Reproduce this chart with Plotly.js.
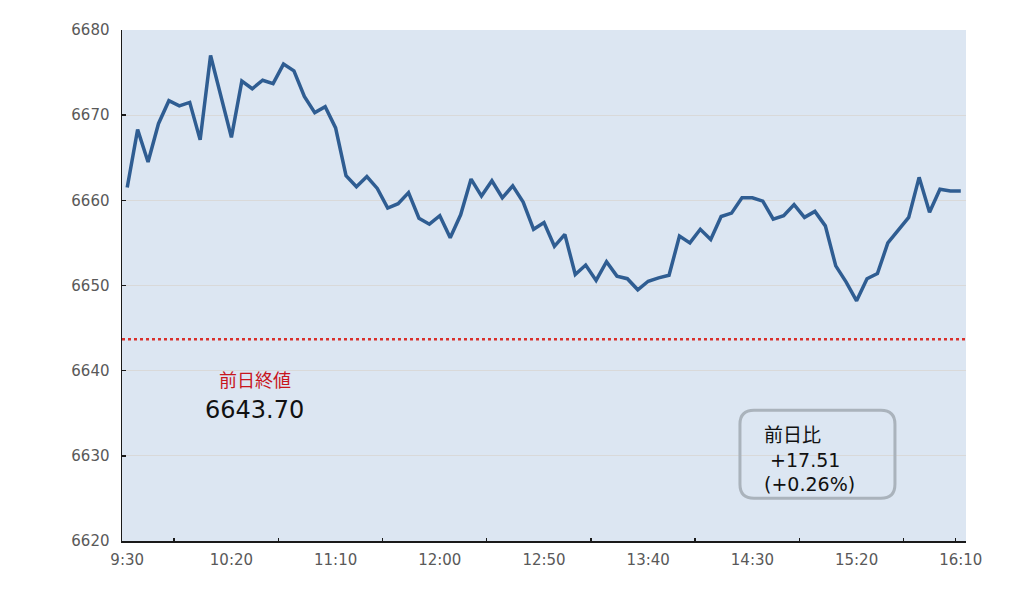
<!DOCTYPE html>
<html>
<head>
<meta charset="utf-8">
<script src="https://cdn.plot.ly/plotly-3.0.1.min.js"></script>
<style>html,body{margin:0;padding:0;background:#fff;}#chart{width:1030px;height:596px;}</style>
</head>
<body>
<div id="chart"></div>
<script>
// 5-minute prices, 9:30 -> 16:10 (81 points)
const prices = [
  6661.5, 6668.3, 6664.5, 6669.0, 6671.7, 6671.1, 6671.5, 6667.1, 6677.0, 6672.3,
  6667.4, 6674.0, 6673.1, 6674.1, 6673.7, 6676.0, 6675.2, 6672.2, 6670.3, 6671.0,
  6668.5, 6662.9, 6661.6, 6662.8, 6661.4, 6659.1, 6659.6, 6660.9, 6657.9, 6657.2,
  6658.2, 6655.6, 6658.3, 6662.5, 6660.5, 6662.3, 6660.3, 6661.7, 6659.8, 6656.6,
  6657.4, 6654.6, 6656.0, 6651.3, 6652.4, 6650.6, 6652.8, 6651.1, 6650.8, 6649.5,
  6650.5, 6650.9, 6651.2, 6655.8, 6655.0, 6656.6, 6655.4, 6658.1, 6658.5, 6660.3,
  6660.3, 6659.9, 6657.8, 6658.2, 6659.5, 6658.0, 6658.7, 6657.0, 6652.3, 6650.4,
  6648.2, 6650.8, 6651.4, 6655.0, 6656.5, 6658.0, 6662.7, 6658.6, 6661.3, 6661.1,
  6661.1
];
const tickLabels = ["9:30", "10:20", "11:10", "12:00", "12:50", "13:40", "14:30", "15:20", "16:10"];
const tickIndex = [0, 10, 20, 30, 40, 50, 60, 70, 80];
const tickMarkIndex = [4.5, 14.5, 24.5, 34.5, 44.5, 54.5, 64.5, 74.5, 79.5];
const prevClose = [6643.70];
const prevCloseLabel = ["前日終値", "6643.70"];
const changeLabel = ["前日比", "\u00a0+17.51", "(+0.26%)"];

const xs = prices.map((_, i) => i);
const FONT = "DejaVu Sans, Noto Sans CJK JP, sans-serif";

const trace = {
  x: xs, y: prices, type: 'scatter', mode: 'lines',
  line: {color: '#2f5d92', width: 3.5},
  hoverinfo: 'skip'
};
// empty trace so the tick-mark overlay axis is drawn
const tickTrace = {x: [], y: [], type: 'scatter', mode: 'lines', xaxis: 'x2', yaxis: 'y', hoverinfo: 'skip'};

const W = 155, H = 88, R = 14;
const boxPath = `M ${-W/2+R} ${-H/2} L ${W/2-R} ${-H/2} Q ${W/2} ${-H/2} ${W/2} ${-H/2+R} L ${W/2} ${H/2-R} Q ${W/2} ${H/2} ${W/2-R} ${H/2} L ${-W/2+R} ${H/2} Q ${-W/2} ${H/2} ${-W/2} ${H/2-R} L ${-W/2} ${-H/2+R} Q ${-W/2} ${-H/2} ${-W/2+R} ${-H/2} Z`;

const layout = {
  width: 1030, height: 596,
  margin: {l: 122, r: 64, t: 30, b: 55},
  paper_bgcolor: '#ffffff',
  plot_bgcolor: '#dce6f2',
  showlegend: false,
  font: {family: FONT, color: '#595959', size: 15},
  xaxis: {
    range: [-0.5, 80.5],
    tickmode: 'array', tickvals: tickIndex, ticktext: tickLabels,
    ticks: '', showgrid: false, zeroline: false,
    showline: true, linecolor: '#1a1a1a', linewidth: 1.5,
    ticklabelstandoff: 4,
    tickfont: {family: FONT, size: 15, color: '#595959'},
    fixedrange: true
  },
  xaxis2: {
    range: [-0.5, 80.5], overlaying: 'x', anchor: 'y', side: 'bottom',
    tickmode: 'array', tickvals: tickMarkIndex,
    ticks: 'inside', ticklen: 3, tickwidth: 1.5, tickcolor: '#1a1a1a',
    showticklabels: false, showgrid: false, zeroline: false, showline: false,
    fixedrange: true
  },
  yaxis: {
    range: [6620, 6680],
    tickmode: 'linear', tick0: 6620, dtick: 10,
    ticks: 'inside', ticklen: 4, tickwidth: 1.5, tickcolor: '#1a1a1a',
    showgrid: true, gridcolor: '#d9d9d9', gridwidth: 1,
    zeroline: false,
    showline: true, linecolor: '#1a1a1a', linewidth: 1.5,
    ticklabelstandoff: 8,
    tickfont: {family: FONT, size: 15, color: '#595959'},
    fixedrange: true
  },
  shapes: [
    {type: 'line', xref: 'paper', yref: 'y', x0: 0, x1: 1, y0: prevClose[0], y1: prevClose[0],
     line: {color: '#d9302c', width: 2.5, dash: 'dot'}},
    {type: 'path', xref: 'paper', yref: 'paper', xsizemode: 'pixel', ysizemode: 'pixel',
     xanchor: 0.824, yanchor: 0.170, path: boxPath,
     line: {color: '#aab3bc', width: 3}, fillcolor: 'rgba(0,0,0,0)'}
  ],
  annotations: [
    {xref: 'paper', yref: 'paper', x: 0.157, y: 0.315, text: prevCloseLabel[0], showarrow: false,
     font: {family: FONT, size: 18, color: '#c8161d'}, xanchor: 'center', yanchor: 'middle'},
    {xref: 'paper', yref: 'paper', x: 0.157, y: 0.256, text: prevCloseLabel[1], showarrow: false,
     font: {family: FONT, size: 24, color: '#111111'}, xanchor: 'center', yanchor: 'middle'},
    {xref: 'paper', yref: 'paper', x: (762 - 122) / 844, y: 0.160, text: changeLabel.join('<br>'), showarrow: false,
     align: 'left', xanchor: 'left', yanchor: 'middle',
     font: {family: FONT, size: 19, color: '#111111'}}
  ]
};

Plotly.newPlot('chart', [trace, tickTrace], layout, {displayModeBar: false, staticPlot: true});
</script>
</body>
</html>
